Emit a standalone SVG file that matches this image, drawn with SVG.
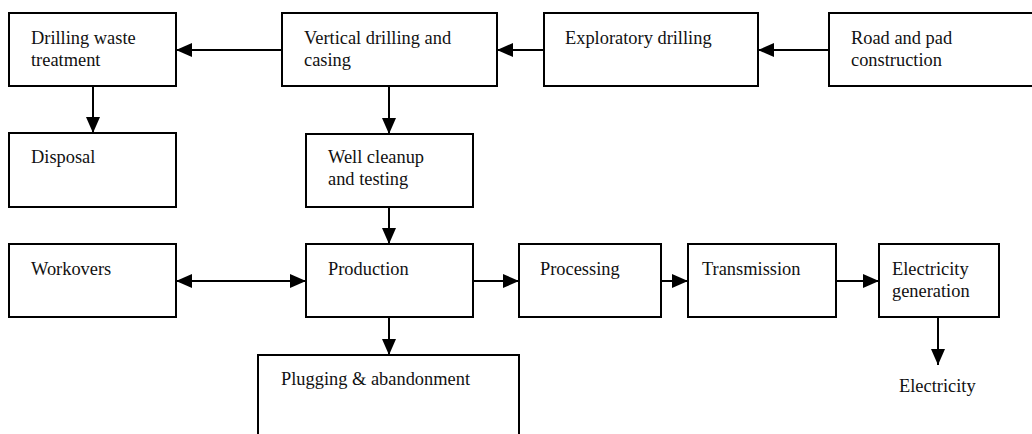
<svg xmlns="http://www.w3.org/2000/svg" width="1032" height="434" viewBox="0 0 1032 434">
<style>
.box{fill:#fff;stroke:#000;stroke-width:2}
.lbl{font-family:"Liberation Serif","Times New Roman",serif;font-size:18.4px;fill:#111}
.con{stroke:#000;stroke-width:2;fill:none}
</style>
<defs>
<marker id="ah" markerUnits="userSpaceOnUse" markerWidth="16" markerHeight="14" refX="16" refY="7" orient="auto-start-reverse">
<path d="M0,0 L16,7 L0,14 z" fill="#000"/>
</marker>
</defs>
<rect width="1032" height="434" fill="#fff"/>
<g id="n-drilling-waste"><rect class="box" x="9" y="13" width="167" height="73"/><text class="lbl" x="31" y="44">Drilling waste</text><text class="lbl" x="31" y="65.5">treatment</text></g>
<g id="n-vertical"><rect class="box" x="282" y="13" width="215" height="73"/><text class="lbl" x="304" y="44">Vertical drilling and</text><text class="lbl" x="304" y="65.5">casing</text></g>
<g id="n-exploratory"><rect class="box" x="544" y="13" width="214" height="73"/><text class="lbl" x="565" y="44">Exploratory drilling</text></g>
<g id="n-road"><rect class="box" x="829" y="13" width="215" height="73"/><text class="lbl" x="851" y="44">Road and pad</text><text class="lbl" x="851" y="65.5">construction</text></g>
<g id="n-disposal"><rect class="box" x="9" y="133" width="167" height="74"/><text class="lbl" x="31" y="163">Disposal</text></g>
<g id="n-well"><rect class="box" x="306" y="134" width="167" height="73"/><text class="lbl" x="328" y="163">Well cleanup</text><text class="lbl" x="328" y="185">and testing</text></g>
<g id="n-workovers"><rect class="box" x="9" y="244" width="167" height="73"/><text class="lbl" x="31" y="275">Workovers</text></g>
<g id="n-production"><rect class="box" x="306" y="244" width="167" height="73"/><text class="lbl" x="328" y="275">Production</text></g>
<g id="n-processing"><rect class="box" x="519" y="244" width="142" height="73"/><text class="lbl" x="540" y="275">Processing</text></g>
<g id="n-transmission"><rect class="box" x="688" y="244" width="148" height="73"/><text class="lbl" x="702" y="275">Transmission</text></g>
<g id="n-elecgen"><rect class="box" x="879" y="244" width="120" height="73"/><text class="lbl" x="892" y="275">Electricity</text><text class="lbl" x="892" y="297">generation</text></g>
<g id="n-plugging"><rect class="box" x="258" y="355" width="261" height="90"/><text class="lbl" x="281" y="385">Plugging &amp; abandonment</text></g>
<g id="n-electricity"><text class="lbl" x="899" y="392">Electricity</text></g>
<g id="connectors">
<line class="con" x1="282" y1="50" x2="176" y2="50" marker-end="url(#ah)"/>
<line class="con" x1="544" y1="50" x2="497" y2="50" marker-end="url(#ah)"/>
<line class="con" x1="829" y1="50" x2="758" y2="50" marker-end="url(#ah)"/>
<line class="con" x1="93" y1="86" x2="93" y2="133" marker-end="url(#ah)"/>
<line class="con" x1="389" y1="86" x2="389" y2="134" marker-end="url(#ah)"/>
<line class="con" x1="389" y1="207" x2="389" y2="244" marker-end="url(#ah)"/>
<line class="con" x1="176" y1="281" x2="306" y2="281" marker-start="url(#ah)" marker-end="url(#ah)"/>
<line class="con" x1="473" y1="281" x2="519" y2="281" marker-end="url(#ah)"/>
<line class="con" x1="661" y1="281" x2="688" y2="281" marker-end="url(#ah)"/>
<line class="con" x1="836" y1="281" x2="879" y2="281" marker-end="url(#ah)"/>
<line class="con" x1="389" y1="317" x2="389" y2="355" marker-end="url(#ah)"/>
<line class="con" x1="938" y1="317" x2="938" y2="365" marker-end="url(#ah)"/>
</g>
</svg>
